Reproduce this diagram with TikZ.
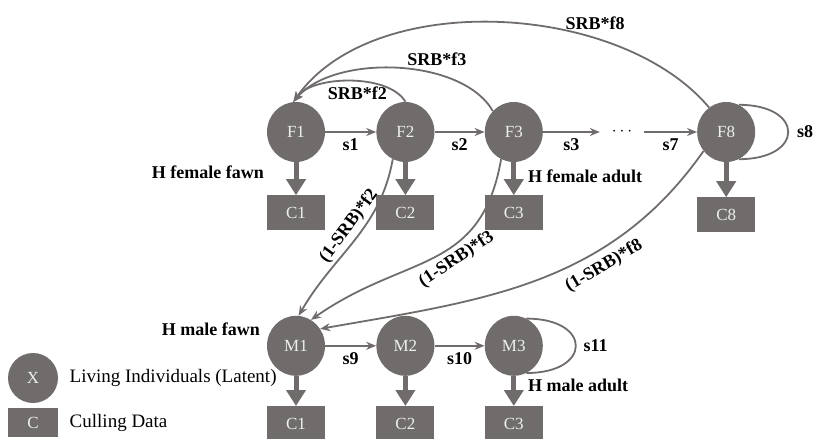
\documentclass[tikz,border=0pt]{standalone}
\usepackage{fontspec}
\setmainfont{Liberation Serif}
\usepackage{xcolor}
\usepackage{tikz}
\usetikzlibrary{arrows.meta,positioning,shapes.geometric}
\definecolor{stategray}{RGB}{113,108,108}
\definecolor{labelgray}{RGB}{238,238,238}

\begin{document}
\begin{tikzpicture}[node distance=50pt, auto]
    % Styles
    \tikzstyle{state} = [ellipse, fill=stategray, text=labelgray, minimum width=58pt, minimum height=60pt, inner sep=0pt, font=\fontsize{17}{17}\selectfont]
    \tikzstyle{cull} = [rectangle, fill=stategray, text=labelgray, minimum width=58pt, minimum height=35pt, inner sep=0pt, font=\fontsize{17}{17}\selectfont]
    \tikzstyle{arrow} = [draw=stategray, line width=1.8pt, -{Stealth[length=10pt,width=8pt]}]
    \tikzstyle{loopline} = [draw=stategray, line width=1.8pt]
    \tikzstyle{cullarrow} = [draw=stategray, line width=5pt, -{Triangle[length=16pt,width=19pt]}]
    \tikzstyle{lab} = [font=\bfseries\fontsize{18}{18}\selectfont, text=black, inner sep=2pt]
    \tikzstyle{legend} = [font=\fontsize{19}{19}\selectfont, text=black]

    \useasboundingbox (0,0) rectangle (817pt,-439pt);

    % Nodes - female row
    \node [state] (F1) at (296pt,-132pt) {F1};
    \node [state, right=51pt of F1] (F2) {F2};
    \node [state, right=50pt of F2] (F3) {F3};
    \node [state, right=154pt of F3] (F8) {F8};
    \node [minimum width=44pt, inner sep=0pt, font=\fontsize{18}{18}\selectfont] (dots) at (622pt,-132pt) {$\cdots$};

    % Culling data - females
    \node [cull, below=33pt of F1] (C1f) {C1};
    \node [cull, below=33pt of F2] (C2f) {C2};
    \node [cull, below=33pt of F3] (C3f) {C3};
    \node [cull, below=35pt of F8] (C8f) {C8};

    % Nodes - male row
    \node [state, below=85pt of C1f] (M1) {M1};
    \node [state, right=51pt of M1] (M2) {M2};
    \node [state, right=50pt of M2] (M3) {M3};

    % Culling data - males
    \node [cull, below=30pt of M1] (C1m) {C1};
    \node [cull, below=30pt of M2] (C2m) {C2};
    \node [cull, below=30pt of M3] (C3m) {C3};

    % Survival
    \draw[arrow] (F1) -- node[lab, below=4pt] {s1} (F2);
    \draw[arrow] (F2) -- node[lab, below=4pt] {s2} (F3);
    \draw[arrow] (F3) -- node[lab, below=4pt] {s3} (dots);
    \draw[arrow] (dots) -- node[lab, below=4pt] {s7} (F8);
    \draw[loopline] (F8.65) to[out=0, in=0, looseness=3.1] node[lab, right=6pt] {s8} (F8.-65);
    \draw[arrow] (M1) -- node[lab, below=4pt] {s9} (M2);
    \draw[arrow] (M2) -- node[lab, below=4pt] {s10} (M3);
    \draw[loopline] (M3.65) to[out=0, in=0, looseness=3.1] node[lab, right=5pt] {s11} (M3.-65);

    % Harvest
    \foreach \s/\c in {F1/C1f, F2/C2f, F3/C3f, F8/C8f, M1/C1m, M2/C2m, M3/C3m}
        \draw[cullarrow] (\s) -- (\c);

    % Recruitment - female fawns
    \draw[arrow] (F2.90) to[out=120, in=55, looseness=0.75] node[lab, below=3pt, pos=0.45] {SRB*f2} (F1.95);
    \draw[arrow] (F3.135) to[out=120, in=50, looseness=0.8] node[lab, above=6pt, pos=0.33] {SRB*f3} (F1.95);
    \draw[arrow] (F8.125) to[out=130, in=55, looseness=0.85] node[lab, above=6pt, pos=0.3] {SRB*f8} (F1.95);

    % Recruitment - male fawns
    \draw[arrow] (F2.-115) to[out=-100, in=60] node[lab, above=2pt, sloped, pos=0.45] {(1-SRB)*f2} (M1.85);
    \draw[arrow] (F3.-115) to[out=-100, in=35, looseness=1.2] node[lab, below=2pt, sloped, pos=0.42] {(1-SRB)*f3} (M1.60);
    \draw[arrow] (F8.-140) to[out=-125, in=10] node[lab, below=5pt, sloped, pos=0.34] {(1-SRB)*f8} (M1.35);

    % Harvest labels
    \node [lab, anchor=east] (hff) at (266pt,-172pt) {H female fawn};
    \node [lab, anchor=west] (hfa) at (526pt,-176pt) {H female adult};
    \node [lab, anchor=east] (hmf) at (262pt,-329pt) {H male fawn};
    \node [lab, anchor=west] (hma) at (526pt,-385pt) {H male adult};

    % Legend
    \node [state, minimum width=50pt, minimum height=50pt] (legX) at (33pt,-378pt) {X};
    \node [cull, minimum width=50pt, minimum height=29pt, below=5pt of legX] (legC) {C};
    \node [legend, right=8pt of legX] (legXtext) {Living Individuals (Latent)};
    \node [legend, right=8pt of legC] (legCtext) {Culling Data};

\end{tikzpicture}
\end{document}
